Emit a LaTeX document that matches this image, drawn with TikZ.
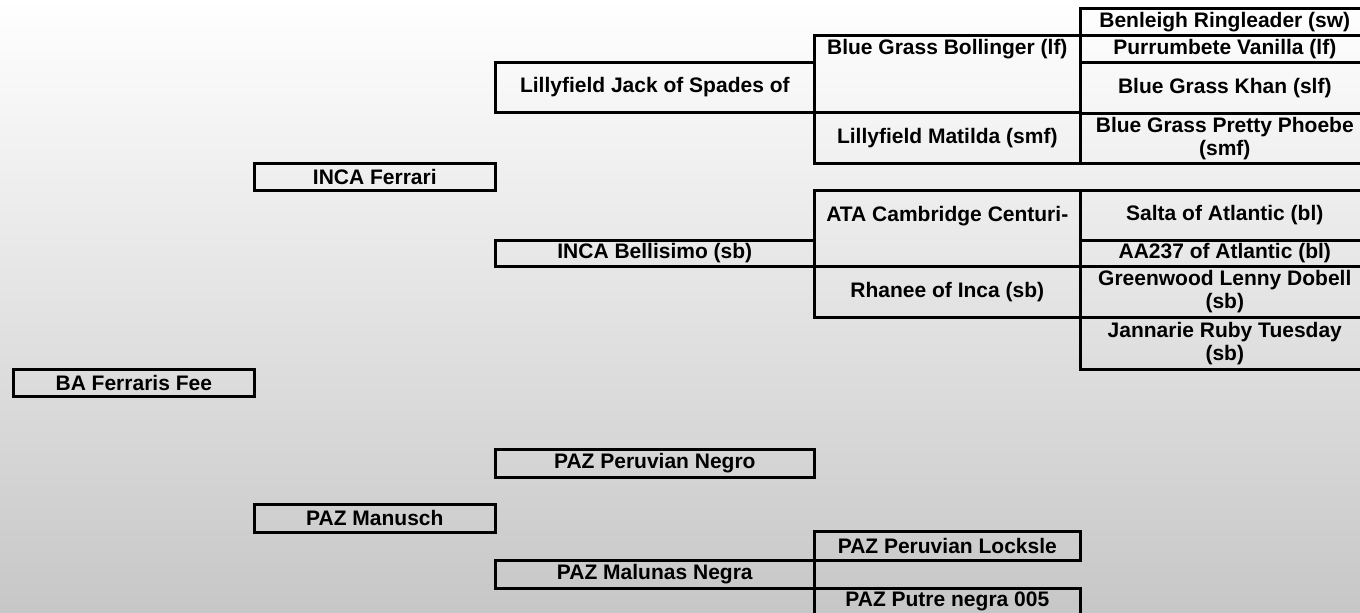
\documentclass[tikz,border=0pt]{standalone}
\usepackage{fontspec}
\setmainfont{Liberation Sans}
\definecolor{bgmid}{gray}{0.965}
\definecolor{bgbot}{gray}{0.78}
\newcommand{\pxu}{0.5pt}
\newcommand{\pedfont}{\fontsize{10.5}{11.5}\selectfont\bfseries}
\tikzset{
  pedbox/.style 2 args={draw=black, line width=1.3pt, anchor=north west, inner sep=0pt, minimum width=#1*\pxu, minimum height=#2*\pxu, font=\pedfont, align=center},
  toptext/.style={anchor=center, font=\pedfont, yshift=-#1*\pxu},
}
\begin{document}
\begin{tikzpicture}[x=\pxu, y=-\pxu]
\useasboundingbox (0,0) rectangle (1360,612);
\shade[top color=white, middle color=bgmid, bottom color=bgbot] (0,0) rectangle (1360,612);
% generation 1 and 2
\node[pedbox={241}{27}] (ferrarisfee) at (12,368) {BA Ferraris Fee};
\node[pedbox={241}{27}] (incaferrari) at (253,162) {INCA Ferrari};
\node[pedbox={241}{28}] (manusch) at (253,503) {PAZ Manusch};
% generation 3
\node[pedbox={319}{50}] (lillyjack) at (494,61) {Lillyfield Jack of Spades of};
\node[pedbox={319}{26}] (bellisimo) at (494,239) {INCA Bellisimo (sb)};
\node[pedbox={319}{28}] (peruviannegro) at (494,448) {PAZ Peruvian Negro};
\node[pedbox={319}{28}] (malunas) at (494,559) {PAZ Malunas Negra};
% generation 4
\node[pedbox={266}{77}, label={[toptext=15.5]north:Blue Grass Bollinger (lf)}] (bollinger) at (813,34) {};
\node[pedbox={266}{51}] (matilda) at (813,111) {Lillyfield Matilda (smf)};
\node[pedbox={266}{76}, label={[toptext=27]north:ATA Cambridge Centuri-}] (cambridge) at (813,189) {};
\node[pedbox={266}{51}] (rhanee) at (813,265) {Rhanee of Inca (sb)};
\node[pedbox={266}{29}] (locksle) at (813,530) {PAZ Peruvian Locksle};
\node[pedbox={266}{27}] (putre) at (813,587) {PAZ Putre negra 005};
% generation 5
\node[pedbox={289}{27}] (benleigh) at (1079,7) {Benleigh Ringleader (sw)};
\node[pedbox={289}{27}] (purrumbete) at (1079,34) {Purrumbete Vanilla (lf)};
\node[pedbox={289}{51}] (khan) at (1079,61) {Blue Grass Khan (slf)};
\node[pedbox={289}{50}] (phoebe) at (1079,112) {Blue Grass Pretty Phoebe\\(smf)};
\node[pedbox={289}{50}] (salta) at (1079,189) {Salta of Atlantic (bl)};
\node[pedbox={289}{26}] (aa237) at (1079,239) {AA237 of Atlantic (bl)};
\node[pedbox={289}{51}] (greenwood) at (1079,265) {Greenwood Lenny Dobell\\(sb)};
\node[pedbox={289}{52}] (jannarie) at (1079,316) {Jannarie Ruby Tuesday\\(sb)};
\end{tikzpicture}
\end{document}
